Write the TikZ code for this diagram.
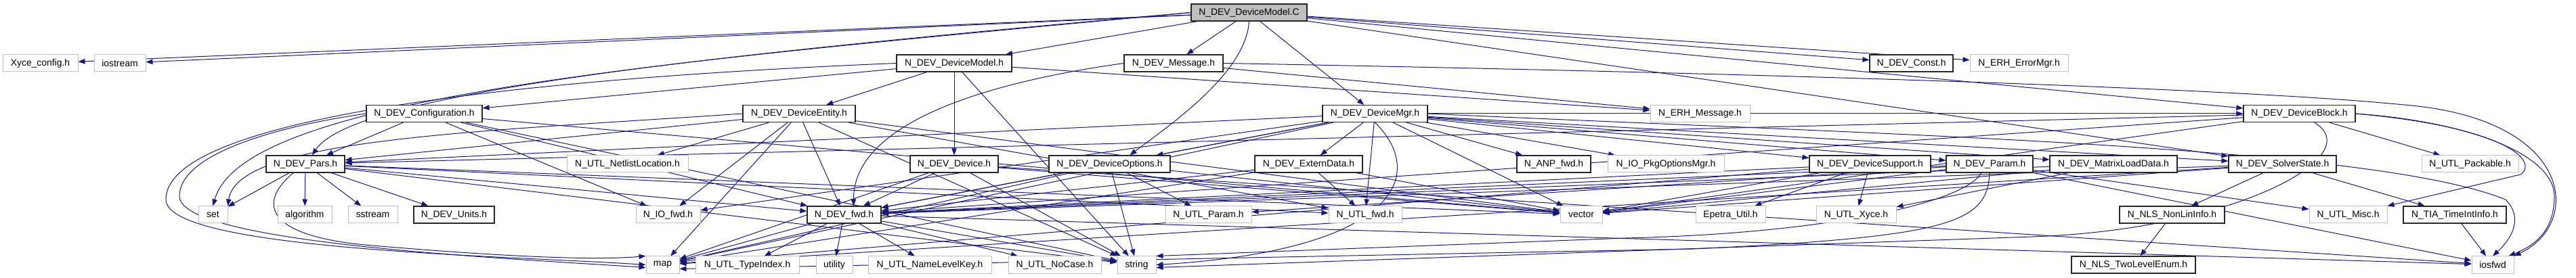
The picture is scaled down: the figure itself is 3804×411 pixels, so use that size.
\documentclass[tikz,border=0pt]{standalone}
\usepackage{fontspec}
\setmainfont{Liberation Sans}
\usetikzlibrary{arrows.meta,backgrounds}
\definecolor{edgec}{HTML}{191970}
\definecolor{extc}{HTML}{BFBFBF}
\definecolor{topc}{HTML}{BFBFBF}
\begin{document}
\begin{tikzpicture}[x=1pt,y=-1pt,
  box/.style={rectangle, minimum height=25pt, inner sep=0pt, fill=white, text=black,
    font=\fontsize{13.9pt}{16pt}\selectfont},
  doc/.style={box, draw=black!85, line width=1.2pt},
  ext/.style={box, draw=extc, line width=1pt},
  topnode/.style={doc, fill=topc},
  e/.style={draw=edgec, line width=1pt, -{Triangle[length=10pt,width=7.5pt]}}]
\useasboundingbox (0,0) rectangle (3804,411);
% row 0
\node[topnode, minimum width=171pt] (C) at (1844.5,18.5) {N\_DEV\_DeviceModel.C};
% row 1
\node[ext, minimum width=111pt] (xyce) at (59.5,93.5) {Xyce\_config.h};
\node[ext, minimum width=76pt] (iostream) at (177,93.5) {iostream};
\node[doc, minimum width=170pt] (dmh) at (1409,93.5) {N\_DEV\_DeviceModel.h};
\node[doc, minimum width=146pt] (msg) at (1733,93.5) {N\_DEV\_Message.h};
\node[doc, minimum width=123pt] (const) at (2822.5,93.5) {N\_DEV\_Const.h};
\node[ext, minimum width=145pt] (errmgr) at (2981.5,93.5) {N\_ERH\_ErrorMgr.h};
% row 2
\node[doc, minimum width=171pt] (config) at (626.5,168) {N\_DEV\_Configuration.h};
\node[doc, minimum width=166pt] (entity) at (1180,168) {N\_DEV\_DeviceEntity.h};
\node[doc, minimum width=155pt] (mgr) at (2030.5,168) {N\_DEV\_DeviceMgr.h};
\node[ext, minimum width=147pt] (erhmsg) at (2510.5,168) {N\_ERH\_Message.h};
\node[doc, minimum width=165pt] (block) at (3395.5,168) {N\_DEV\_DeviceBlock.h};
% row 3
\node[doc, minimum width=116pt] (pars) at (451,242.5) {N\_DEV\_Pars.h};
\node[ext, minimum width=179pt] (netlist) at (926.5,242.5) {N\_UTL\_NetlistLocation.h};
\node[doc, minimum width=130pt] (device) at (1409,242.5) {N\_DEV\_Device.h};
\node[doc, minimum width=179pt] (options) at (1638.5,242.5) {N\_DEV\_DeviceOptions.h};
\node[doc, minimum width=159pt] (extern) at (1932.5,242.5) {N\_DEV\_ExternData.h};
\node[doc, minimum width=109pt] (anp) at (2294.5,242.5) {N\_ANP\_fwd.h};
\node[ext, minimum width=172pt] (pkg) at (2460,242.5) {N\_IO\_PkgOptionsMgr.h};
\node[doc, minimum width=179pt] (support) at (2761.5,242.5) {N\_DEV\_DeviceSupport.h};
\node[doc, minimum width=128pt] (param) at (2938,242.5) {N\_DEV\_Param.h};
\node[doc, minimum width=188pt] (matrix) at (3121,242.5) {N\_DEV\_MatrixLoadData.h};
\node[doc, minimum width=159pt] (solver) at (3370.5,242.5) {N\_DEV\_SolverState.h};
\node[ext, minimum width=143pt] (packable) at (3647.5,242.5) {N\_UTL\_Packable.h};
% row 4
\node[ext, minimum width=43pt] (set) at (314.5,317.5) {set};
\node[ext, minimum width=80pt] (algorithm) at (450,317.5) {algorithm};
\node[ext, minimum width=73pt] (sstream) at (550.5,317.5) {sstream};
\node[doc, minimum width=119pt] (units) at (670.5,317.5) {N\_DEV\_Units.h};
\node[ext, minimum width=95pt] (iofwd) at (986.5,317.5) {N\_IO\_fwd.h};
\node[doc, minimum width=109pt] (devfwd) at (1246.5,317.5) {N\_DEV\_fwd.h};
\node[ext, minimum width=127pt] (utlparam) at (1784.5,317.5) {N\_UTL\_Param.h};
\node[ext, minimum width=108pt] (utlfwd) at (2016,317.5) {N\_UTL\_fwd.h};
\node[ext, minimum width=62pt] (vector) at (2335,317.5) {vector};
\node[ext, minimum width=103pt] (epetra) at (2555.5,317.5) {Epetra\_Util.h};
\node[ext, minimum width=118pt] (xyce2) at (2741,317.5) {N\_UTL\_Xyce.h};
\node[doc, minimum width=155pt] (nonlin) at (3207.5,317.5) {N\_NLS\_NonLinInfo.h};
\node[ext, minimum width=115pt] (misc) at (3467.5,317.5) {N\_UTL\_Misc.h};
\node[doc, minimum width=152pt] (timeint) at (3625,317.5) {N\_TIA\_TimeIntInfo.h};
% row 5
\node[ext, minimum width=49pt] (map) at (978.5,391.5) {map};
\node[ext, minimum width=153pt] (typeindex) at (1103.5,391.5) {N\_UTL\_TypeIndex.h};
\node[ext, minimum width=54pt] (utility) at (1232,391.5) {utility};
\node[ext, minimum width=182pt] (namelevel) at (1373,391.5) {N\_UTL\_NameLevelKey.h};
\node[ext, minimum width=137pt] (nocase) at (1557.5,391.5) {N\_UTL\_NoCase.h};
\node[ext, minimum width=57pt] (string) at (1678.5,391.5) {string};
\node[doc, minimum width=183pt] (twolevel) at (3150.5,391.5) {N\_NLS\_TwoLevelEnum.h};
\node[ext, minimum width=62pt] (iosfwd) at (3681,391.5) {iosfwd};

\begin{pgfonlayer}{background}
% from DeviceModel.C
\foreach \t in {xyce,iostream,dmh,msg,mgr,const,errmgr,block,solver}
  \draw[e] (C) -- (\t);
\draw[e] (C.south) .. controls (1840,110) and (1720,190) .. ([xshift=30pt]options.north);
\draw[e] (C.west) .. controls (1000,90) and (360,140) .. (set.north);
\draw[e] (C.west) .. controls (1000,85) and (520,140) .. ([xshift=10pt]pars.north);
% DeviceModel.h
\foreach \t in {config,entity,device,string,erhmsg}
  \draw[e] (dmh) -- (\t);
\draw[e] (dmh.west) .. controls (800,115) and (245,170) .. (245,295) .. controls (245,370) and (750,378) .. (map.west);
% Message.h
\draw[e] (msg) -- (erhmsg);
\draw[e] (msg.west) .. controls (1400,130) and (1260,200) .. ([xshift=14pt]devfwd.north);
\draw[e] (msg.east) .. controls (2600,108) and (3300,130) .. (3550,155) .. controls (3800,175) and (3815,330) .. (iosfwd.north east);
% Configuration.h
\foreach \t in {pars,iofwd,devfwd,vector,string}
  \draw[e] (config) -- (\t);
\draw[e] (config.west) .. controls (420,185) and (265,225) .. (265,290) .. controls (265,360) and (750,382) .. ([yshift=-4pt]map.west);
% DeviceEntity.h
\foreach \t in {pars,netlist,iofwd,devfwd,utlfwd,vector,map,string}
  \draw[e] (entity) -- (\t);
\draw[e] (entity.west) .. controls (700,195) and (350,205) .. (set.north east);
% DeviceMgr.h
\foreach \t in {pars,iofwd,devfwd,options,extern,utlfwd,vector,anp,pkg,support,param,matrix,solver,block,map}
  \draw[e] (mgr) -- (\t);
\draw[e] (mgr.south) .. controls (2110,260) and (2060,370) .. (string.east);
\draw[e] (mgr.east) .. controls (2800,200) and (3500,215) .. (3700,295) .. controls (3725,320) and (3712,350) .. (iosfwd.north);
% Pars.h
\foreach \t in {set,algorithm,sstream,units,devfwd,utlfwd,vector,string}
  \draw[e] (pars) -- (\t);
\draw[e] ([xshift=-18pt]pars.south) .. controls (380,300) and (390,350) .. (550,363) .. controls (750,380) and (880,385) .. (map.north west);
% Device.h
\foreach \t in {devfwd,map,vector,iosfwd,string}
  \draw[e] (device) -- (\t);
% DeviceOptions.h
\foreach \t in {devfwd,utlparam,string,map,vector}
  \draw[e] (options) -- (\t);
% ExternData.h
\foreach \t in {devfwd,utlfwd,vector,map}
  \draw[e] (extern) -- (\t);
% DeviceSupport.h
\foreach \t in {epetra,vector,devfwd,map,xyce2}
  \draw[e] (support) -- (\t);
% Param.h
\foreach \t in {utlparam,vector,devfwd,misc,iosfwd}
  \draw[e] (param) -- (\t);
\draw[e] ([xshift=-12pt]param.south) .. controls (2900,300) and (2700,345) .. (2400,352) -- (string.north east);
\draw[e] (param.south) .. controls (2935,330) and (2880,350) .. (2500,368) -- ([yshift=-6pt]map.east);
% MatrixLoadData.h
\foreach \t in {vector,xyce2,devfwd}
  \draw[e] (matrix) -- (\t);
% SolverState.h
\foreach \t in {nonlin,timeint,vector,devfwd,map}
  \draw[e] (solver) -- (\t);
% DeviceBlock.h
\foreach \t in {pars,packable,vector,devfwd}
  \draw[e] (block) -- (\t);
\draw[e] (block.east) .. controls (3700,188) and (3750,238) .. (3722,258) -- (misc.north east);
\draw[e] (block.east) .. controls (3650,180) and (3772,230) .. (3772,290) .. controls (3772,340) and (3745,362) .. ([xshift=-8pt]iosfwd.north east);
\draw[e] ([xshift=22pt]block.south) .. controls (3500,230) and (3300,340) .. (3000,350) -- ([yshift=-4pt]string.east);
% N_DEV_fwd.h
\foreach \t in {map,typeindex,utility,namelevel,nocase,string,iosfwd}
  \draw[e] (devfwd) -- (\t);
% others
\draw[e] (nonlin) -- (twolevel);
\draw[e] (timeint) -- (iosfwd);
\end{pgfonlayer}
\end{tikzpicture}
\end{document}
